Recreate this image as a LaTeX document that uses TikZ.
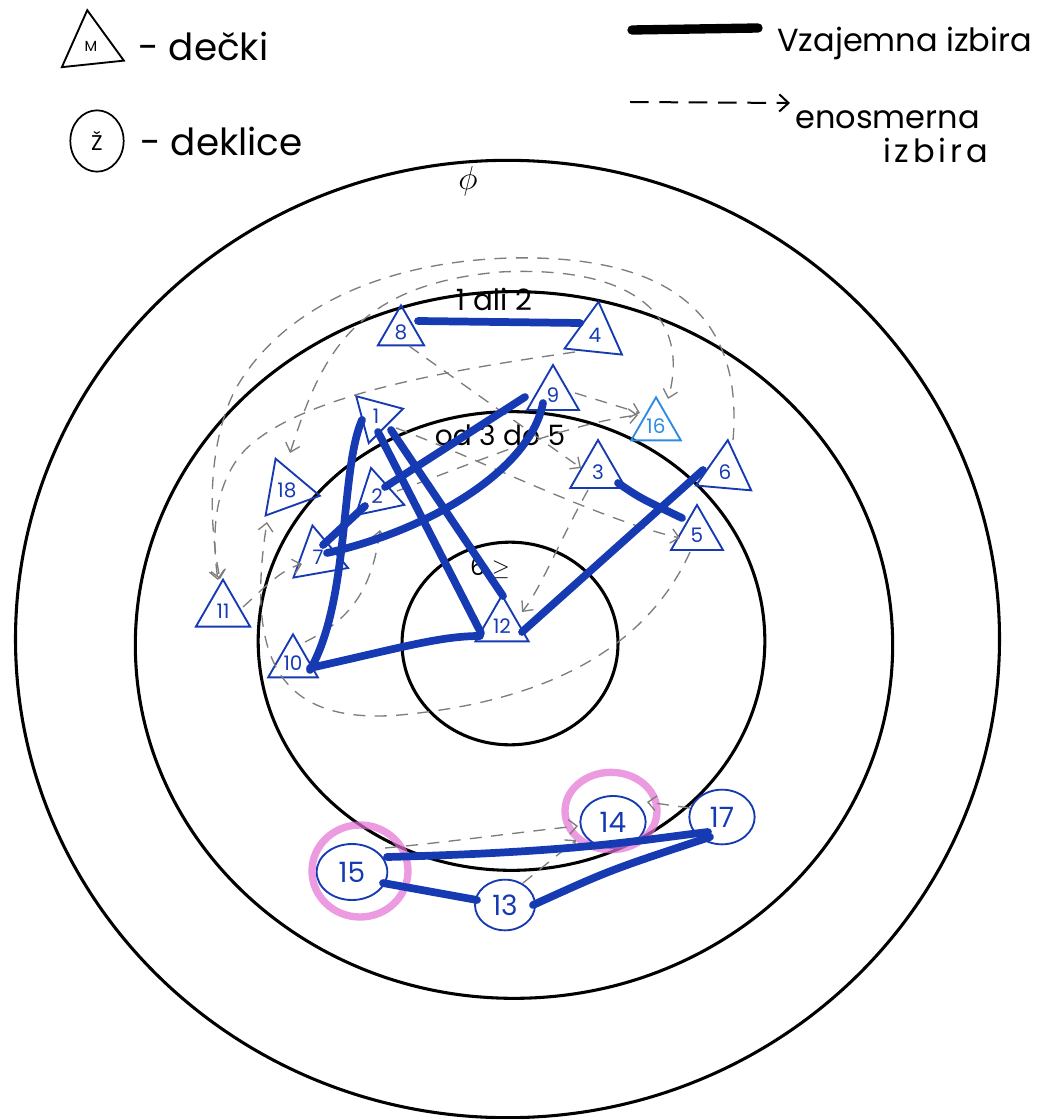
\documentclass[tikz,border=0pt]{standalone}
\usepackage{fontspec}
\setmainfont{Poppins}
\usetikzlibrary{shapes.geometric,arrows.meta,calc}
\definecolor{mblue}{RGB}{22,58,178}
\definecolor{lblue}{RGB}{45,140,225}
\definecolor{mpink}{RGB}{228,112,212}
\definecolor{dgray}{RGB}{125,125,125}
\tikzset{
 ring/.style={draw=black,line width=2.3pt},
 tri/.style={regular polygon,regular polygon sides=3,draw=mblue,line width=1.4pt,inner sep=0pt,minimum size=46pt,text=mblue,font=\fontsize{15}{15}\selectfont},
 girl/.style={ellipse,draw=mblue,line width=1.4pt,inner sep=0pt,minimum width=49pt,minimum height=39pt,text=mblue,font=\fontsize{21}{21}\selectfont},
 mutual/.style={draw=mblue,line width=5.8pt,line cap=round},
 oneway/.style={draw=dgray,line width=1pt,dash pattern=on 9pt off 7pt,-{Straight Barb[length=6pt,width=11pt]}},
 highlight/.style={draw=mpink,line width=5.5pt,opacity=0.7},
 hand/.style={font=\fontsize{24}{24}\selectfont,anchor=west,inner sep=0pt}
}
\begin{document}
\begin{tikzpicture}[x=0.75pt,y=-0.75pt]
\useasboundingbox (0,0) rectangle (1043,1119);
\clip (0,0) rectangle (1043,1119);
% concentric rings
\draw[ring] (507.5,639) ellipse (369pt and 359pt);
\draw[ring] (514,645) ellipse (284pt and 265pt);
\draw[ring] (511.5,641) ellipse (190pt and 172pt);
\draw[ring] (510,643.5) ellipse (81pt and 76pt);
\node[font=\fontsize{24}{24}\selectfont] (phi) at (468,181) {$\phi$};

% legend
\node[tri,draw=black,text=black,minimum size=54pt,shape border rotate=6,font=\fontsize{11}{11}\selectfont] (legM) at (91,46) {M};
\node[hand,font=\fontsize{28}{28}\selectfont] (legMt) at (138,46) {- dečki};
\node[ellipse,draw=black,line width=1.3pt,minimum width=40pt,minimum height=46pt,inner sep=0pt,font=\fontsize{16}{16}\selectfont] (legZ) at (97,141) {Ž};
\node[hand,font=\fontsize{28}{28}\selectfont] (legZt) at (140,141) {- deklice};
\coordinate (ls1) at (632,30);
\coordinate (ls2) at (758,28);
\draw[line width=7pt,line cap=round] (ls1) -- (ls2);
\node[hand] (legV) at (777,43) {Vzajemna izbira};
\coordinate (ld1) at (630,102);
\coordinate (ld2) at (790,103);
\draw[line width=1.5pt,dash pattern=on 14pt off 8pt,-{Straight Barb[length=7pt,width=13pt]}] (ld1) -- (ld2);
\node[hand] (legE1) at (795,120) {enosmerna};
\node[hand] (legE2) at (883,150) {\addfontfeature{LetterSpace=12}izbira};

% ring labels
\node[font=\fontsize{22}{22}\selectfont] (t12) at (494,299) {1 ali 2};
\node[font=\fontsize{21}{21}\selectfont] (t35) at (500,435) {od 3 do 5};
\node[font=\fontsize{18}{18}\selectfont] (t6) at (490,568) {6 $\geq$};

% boys
\node[tri,minimum size=40pt] (n8) at (401,332) {8};
\node[tri,minimum size=50pt,shape border rotate=-6] (n4) at (595,335) {4};
\node[tri,minimum size=45pt] (n9) at (553,395) {9};
\node[tri,draw=lblue,text=lblue,minimum size=43pt] (n16) at (656,426) {16};
\node[tri,minimum size=42pt,shape border rotate=45] (n1) at (376,416) {1};
\node[tri,minimum size=50pt,shape border rotate=20] (n18) at (287,490) {18};
\node[tri,minimum size=43pt,shape border rotate=12] (n2) at (377,496) {2};
\node[tri,minimum size=48pt] (n3) at (598,472) {3};
\node[tri,minimum size=48pt,shape border rotate=-5] (n6) at (725,472) {6};
\node[tri,minimum size=45pt] (n5) at (697,535) {5};
\node[tri,minimum size=48pt,shape border rotate=10] (n7) at (318,557) {7};
\node[tri,minimum size=47pt] (n11) at (223,611) {11};
\node[tri,minimum size=43pt] (n10) at (293,663) {10};
\node[tri] (n12) at (502,626) {12};
% girls
\node[girl] (n14) at (613,822) {14};
\node[girl,minimum height=41pt] (n17) at (722,817) {17};
\node[girl,minimum width=53pt,minimum height=42pt] (n15) at (352,872) {15};
\node[girl,minimum width=45pt,minimum height=38pt] (n13) at (505,905) {13};

% highlights
\draw[highlight] ($(n14)+(-2,-11)$) ellipse (34.5pt and 29pt);
\draw[highlight] ($(n15)+(8,-1)$) ellipse (36pt and 34.5pt);

% one-way choices
\draw[oneway] ($(n6)+(8,-32)$) .. controls (745,300) and (650,255) .. (510,258) .. controls (380,262) and (280,310) .. (235,390) .. controls (205,450) and (210,530) .. ($(n11)+(-3,-32)$);
\draw[oneway,{Straight Barb[length=6pt,width=11pt]}-{Straight Barb[length=6pt,width=11pt]}] ($(n18)+(3,-37)$) .. controls (320,360) and (350,285) .. (500,272) .. controls (640,265) and (690,320) .. ($(n16)+(12,-27)$);
\draw[oneway] ($(n4)+(-20,17)$) .. controls (450,370) and (300,395) .. (245,450) .. controls (212,485) and (212,540) .. ($(n11)+(-5,-31)$);
\draw[oneway] ($(n5)+(-7,17)$) .. controls (650,640) and (560,700) .. (400,715) .. controls (280,725) and (245,660) .. ($(n18)+(-20,32)$);
\draw[oneway] ($(n11)+(20,-4)$) .. controls (262,590) and (280,570) .. ($(n7)+(-16,7)$);
\draw[oneway] ($(n10)+(12,-21)$) .. controls (350,620) and (372,590) .. ($(n2)+(3,34)$);
\draw[oneway] ($(n8)+(8,14)$) -- ($(n3)+(-17,-4)$);
\draw[oneway] ($(n9)+(22,-2)$) -- ($(n16)+(-16,-13)$);
\draw[oneway] ($(n2)+(20,-5)$) .. controls (470,465) and (560,425) .. ($(n16)+(-18,-11)$);
\draw[oneway] ($(n1)+(20,12)$) .. controls (470,455) and (600,520) .. ($(n5)+(-17,3)$);
\draw[oneway] ($(n3)+(-10,18)$) .. controls (560,540) and (540,590) .. ($(n12)+(20,-14)$);
\draw[oneway] ($(n15)+(33,-24)$) .. controls (450,842) and (520,832) .. ($(n14)+(-35,4)$);
\draw[oneway] ($(n13)+(18,-22)$) -- ($(n14)+(-37,18)$);
\draw[oneway] ($(n17)+(-32,-9)$) -- ($(n14)+(34,-20)$);

% mutual choices
\draw[mutual] ($(n8)+(17,-11)$) -- ($(n4)+(-15,-12)$);
\draw[mutual] ($(n1)+(-14,4)$) .. controls (340,470) and (350,600) .. ($(n10)+(17,7)$);
\draw[mutual] ($(n1)+(2,16)$) -- ($(n12)+(-21,7)$);
\draw[mutual] ($(n1)+(15,14)$) -- ($(n12)+(1,-30)$);
\draw[mutual] ($(n2)+(8,-9)$) -- ($(n9)+(-28,2)$);
\draw[mutual] ($(n7)+(5,-12)$) -- ($(n2)+(-12,10)$);
\draw[mutual] ($(n7)+(9,-4)$) .. controls (430,530) and (530,470) .. ($(n9)+(-10,8)$);
\draw[mutual] ($(n10)+(17,5)$) .. controls (400,648) and (440,636) .. ($(n12)+(-22,10)$);
\draw[mutual] ($(n12)+(20,6)$) -- ($(n6)+(-22,-2)$);
\draw[mutual] ($(n3)+(20,11)$) .. controls (640,498) .. ($(n5)+(-15,-17)$);
\draw[mutual] ($(n15)+(35,-15)$) .. controls (580,852) and (640,840) .. ($(n17)+(-14,15)$);
\draw[mutual] ($(n15)+(31,11)$) -- ($(n13)+(-28,-5)$);
\draw[mutual] ($(n13)+(28,0)$) .. controls (610,870) .. ($(n17)+(-12,20)$);
\end{tikzpicture}
\end{document}
